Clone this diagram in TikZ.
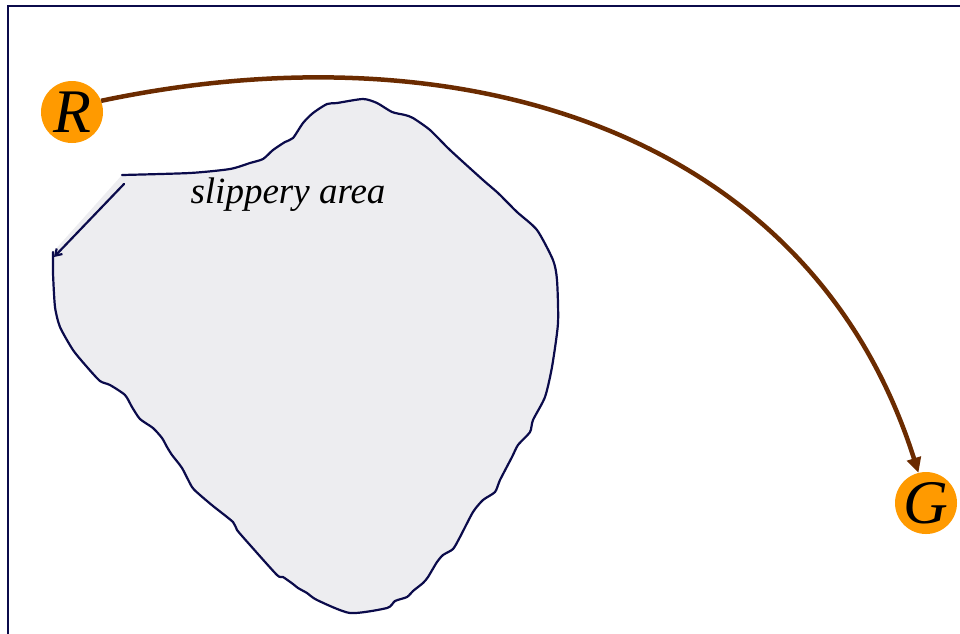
\documentclass[tikz,border=0pt]{standalone}
\usepackage{fontspec}
\setmainfont{Liberation Serif}
\usetikzlibrary{arrows.meta}
\definecolor{navy}{HTML}{0B0B4B}
\definecolor{blobgray}{HTML}{EDEDF0}
\definecolor{ballorange}{HTML}{FF9A00}
\definecolor{pathbrown}{HTML}{6B2B00}
\tikzset{
  frameline/.style={draw=navy, line width=2pt},
  blobfill/.style={fill=blobgray},
  blobline/.style={draw=navy, line width=2.2pt, line join=round, line cap=round},
  ball/.style={circle, fill=ballorange, minimum size=62pt, inner sep=0pt,
    font=\fontsize{62}{62}\selectfont\itshape},
  route/.style={draw=pathbrown, line width=4.5pt, -{Triangle[length=15pt,width=14pt]}},
  areatext/.style={font=\fontsize{37}{40}\selectfont\itshape, inner sep=0pt}
}
\begin{document}
\begin{tikzpicture}[x=1pt,y=-1pt]
\useasboundingbox (0,0) rectangle (960,633);
\clip (0,0) rectangle (960,633);
\draw[frameline] (8,660) -- (8,6) -- (990,6);
% slippery area blob
\def\blobpts{(122,175) (190,173) (230,169) (250,163) (263,159) (273,150) (285,142) (293,138) (303,123) (313,113) (327,104) (337,103) (363,99) (377,103) (392,112) (405,115) (413,118) (430,130) (450,150) (483,180) (498,193) (517,212) (537,230) (553,260) (557,280) (558,323) (552,367) (545,397) (533,420) (530,432) (518,445) (512,457) (500,480) (495,492) (483,500) (473,512) (460,537) (453,549) (443,555) (437,562) (428,577) (423,583) (413,591) (407,597) (395,601) (387,608) (350,613) (317,600) (307,593) (298,588) (293,584) (283,577) (277,575) (250,545) (237,530) (233,522) (213,506) (200,495) (192,487) (182,468) (172,455) (167,447) (162,438) (153,428) (140,419) (132,407) (125,395) (110,385) (100,381) (87,367) (73,350) (60,327) (55,307) (53,273) (53,252)}
\fill[blobfill] plot[smooth, tension=0.4] coordinates {\blobpts} -- cycle;
\draw[blobline] plot[smooth, tension=0.4] coordinates {\blobpts};
\coordinate (a1) at (124,184);
\coordinate (a2) at (54,257);
\draw[blobline, -{Straight Barb[length=6pt,width=8pt]}] (a1) -- (a2);
\node[areatext] (lbl) at (288,195) {slippery area};
% robot and goal
\node[ball] (R) at (72,112) {R};
\node[ball] (G) at (926,503) {G};
\draw[route] (R.21) .. controls (460,25) and (810,130) .. (G.104);
\end{tikzpicture}
\end{document}
